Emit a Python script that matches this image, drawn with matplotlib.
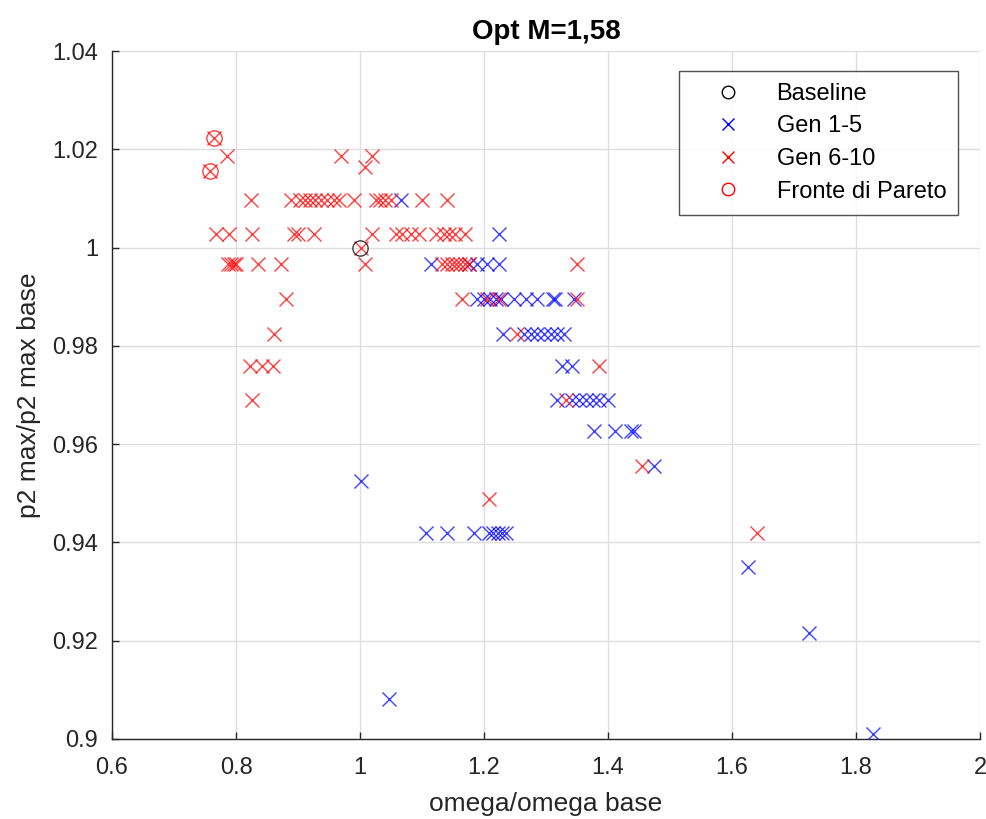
import matplotlib
matplotlib.use("Agg")
import matplotlib.pyplot as plt
from matplotlib.lines import Line2D

plt.rcParams['font.family'] = ['Liberation Sans', 'DejaVu Sans']

# Baseline design
base_x = [1.0]
base_y = [1.0]

# Generations 1-5
gen15_x = [1.066,
           1.224,
           1.114, 1.176, 1.189, 1.205, 1.224,
           1.189, 1.200, 1.210, 1.219, 1.227, 1.248, 1.267, 1.286, 1.311, 1.315, 1.345,
           1.230, 1.265, 1.275, 1.286, 1.297, 1.308, 1.318, 1.329,
           1.326, 1.342,
           1.318, 1.342, 1.353, 1.364, 1.375, 1.385, 1.400,
           1.377, 1.412, 1.437, 1.442,
           1.474,
           1.001,
           1.106, 1.141, 1.184, 1.208, 1.215, 1.222, 1.229, 1.235,
           1.625, 1.724, 1.046, 1.828]
gen15_y = [1.0097,
           1.0028,
           0.9966, 0.9966, 0.9966, 0.9966, 0.9966,
           0.9895, 0.9895, 0.9895, 0.9895, 0.9895, 0.9895, 0.9895, 0.9895, 0.9895, 0.9895, 0.9895,
           0.9825, 0.9825, 0.9825, 0.9825, 0.9825, 0.9825, 0.9825, 0.9825,
           0.9759, 0.9759,
           0.9690, 0.9690, 0.9690, 0.9690, 0.9690, 0.9690, 0.9690,
           0.9627, 0.9627, 0.9627, 0.9627,
           0.9555,
           0.9526,
           0.9420, 0.9420, 0.9420, 0.9420, 0.9420, 0.9420, 0.9420, 0.9420,
           0.9350, 0.9215, 0.9081, 0.9011]

# Generations 6-10
gen610_x = [0.7645, 0.7576,
            0.785, 0.969, 1.020,
            1.0075,
            0.824, 0.888, 0.904, 0.912, 0.920, 0.928, 0.937, 0.947, 0.958, 0.966, 0.990,
            1.025, 1.033, 1.041, 1.050, 1.100, 1.140,
            0.767, 0.789, 0.825, 0.894, 0.900, 0.926, 1.020, 1.058, 1.068, 1.082, 1.095,
            1.122, 1.135, 1.144, 1.154, 1.170,
            1.002,
            0.787, 0.792, 0.797, 0.800, 0.836, 0.872, 1.0075, 1.133, 1.140, 1.148, 1.155,
            1.162, 1.170, 1.176, 1.350,
            0.880, 1.165, 1.205, 1.224, 1.350,
            0.861, 1.254,
            0.823, 0.842, 0.859, 1.385,
            0.826, 1.333,
            1.455, 1.208, 1.641]
gen610_y = [1.0224, 1.0156,
            1.0186, 1.0186, 1.0186,
            1.0163,
            1.0097, 1.0097, 1.0097, 1.0097, 1.0097, 1.0097, 1.0097, 1.0097, 1.0097, 1.0097, 1.0097,
            1.0097, 1.0097, 1.0097, 1.0097, 1.0097, 1.0097,
            1.0028, 1.0028, 1.0028, 1.0028, 1.0028, 1.0028, 1.0028, 1.0028, 1.0028, 1.0028, 1.0028,
            1.0028, 1.0028, 1.0028, 1.0028, 1.0028,
            1.0000,
            0.9966, 0.9966, 0.9966, 0.9966, 0.9966, 0.9966, 0.9966, 0.9966, 0.9966, 0.9966, 0.9966,
            0.9966, 0.9966, 0.9966, 0.9966,
            0.9895, 0.9895, 0.9895, 0.9895, 0.9895,
            0.9825, 0.9825,
            0.9759, 0.9759, 0.9759, 0.9759,
            0.9690, 0.9690,
            0.9555, 0.9489, 0.9419]

# Pareto front
pareto_x = [0.7645, 0.7576]
pareto_y = [1.0224, 1.0156]

x_ticks = [0.6, 0.8, 1.0, 1.2, 1.4, 1.6, 1.8, 2.0]
x_tick_labels = ['0.6', '0.8', '1', '1.2', '1.4', '1.6', '1.8', '2']
y_ticks = [0.90, 0.92, 0.94, 0.96, 0.98, 1.00, 1.02, 1.04]
y_tick_labels = ['0.9', '0.92', '0.94', '0.96', '0.98', '1', '1.02', '1.04']

fig = plt.figure(figsize=(9.87, 8.19), dpi=100)
ax = fig.add_axes([0.1135, 0.0977, 0.8794, 0.84])

ms_x = 10
ms_o = 11
ax.plot(gen15_x, gen15_y, linestyle='none', marker='x', color='blue',
        markersize=ms_x, markeredgewidth=1.0, alpha=0.75, zorder=3)
ax.plot(gen610_x, gen610_y, linestyle='none', marker='x', color='red',
        markersize=ms_x, markeredgewidth=1.0, alpha=0.75, zorder=3)
ax.plot(pareto_x, pareto_y, linestyle='none', marker='o', markerfacecolor='none',
        markeredgecolor='red', markersize=ms_o, markeredgewidth=1.0, alpha=0.75, zorder=4)
ax.plot(base_x, base_y, linestyle='none', marker='o', markerfacecolor='none',
        markeredgecolor='black', markersize=ms_o, markeredgewidth=1.0, alpha=0.75, zorder=4)

ax.set_xlim(0.6, 2.0)
ax.set_ylim(0.9, 1.04)
ax.set_xticks(x_ticks)
ax.set_xticklabels(x_tick_labels)
ax.set_yticks(y_ticks)
ax.set_yticklabels(y_tick_labels)

ax.grid(True, color='#dedede', linewidth=1.0)
ax.set_axisbelow(True)
for side in ('top', 'right'):
    ax.spines[side].set_visible(False)
for side in ('left', 'bottom'):
    ax.spines[side].set_color('#262626')
    ax.spines[side].set_linewidth(1.0)
ax.tick_params(direction='in', length=5, width=1.0, colors='#262626',
               labelsize=17, labelcolor='#262626')
ax.tick_params(axis='x', pad=13)
ax.tick_params(axis='y', pad=10)

ax.set_xlabel('omega/omega base', fontsize=19, color='#262626', labelpad=9)
ax.set_ylabel('p2 max/p2 max base', fontsize=19, color='#262626', labelpad=8)
ax.set_title('Opt M=1,58', fontsize=20, fontweight='bold', color='black', pad=9)

handles = [
    Line2D([], [], linestyle='none', marker='o', markerfacecolor='none',
           markeredgecolor='black', markersize=9, markeredgewidth=1.0),
    Line2D([], [], linestyle='none', marker='x', color='blue', markersize=8,
           markeredgewidth=1.0),
    Line2D([], [], linestyle='none', marker='x', color='red', markersize=8,
           markeredgewidth=1.0),
    Line2D([], [], linestyle='none', marker='o', markerfacecolor='none',
           markeredgecolor='red', markersize=9, markeredgewidth=1.0),
]
labels = ['Baseline', 'Gen 1-5', 'Gen 6-10', 'Fronte di Pareto']
leg = ax.legend(handles, labels, loc='upper right', bbox_to_anchor=(0.9747, 0.9709),
                borderaxespad=0, fontsize=17, frameon=True, fancybox=False,
                edgecolor='#262626', handlelength=3.2, handletextpad=0.44,
                labelspacing=0.45, borderpad=0.5)
leg.get_frame().set_linewidth(1.0)

fig.savefig('out.png', dpi=100)
